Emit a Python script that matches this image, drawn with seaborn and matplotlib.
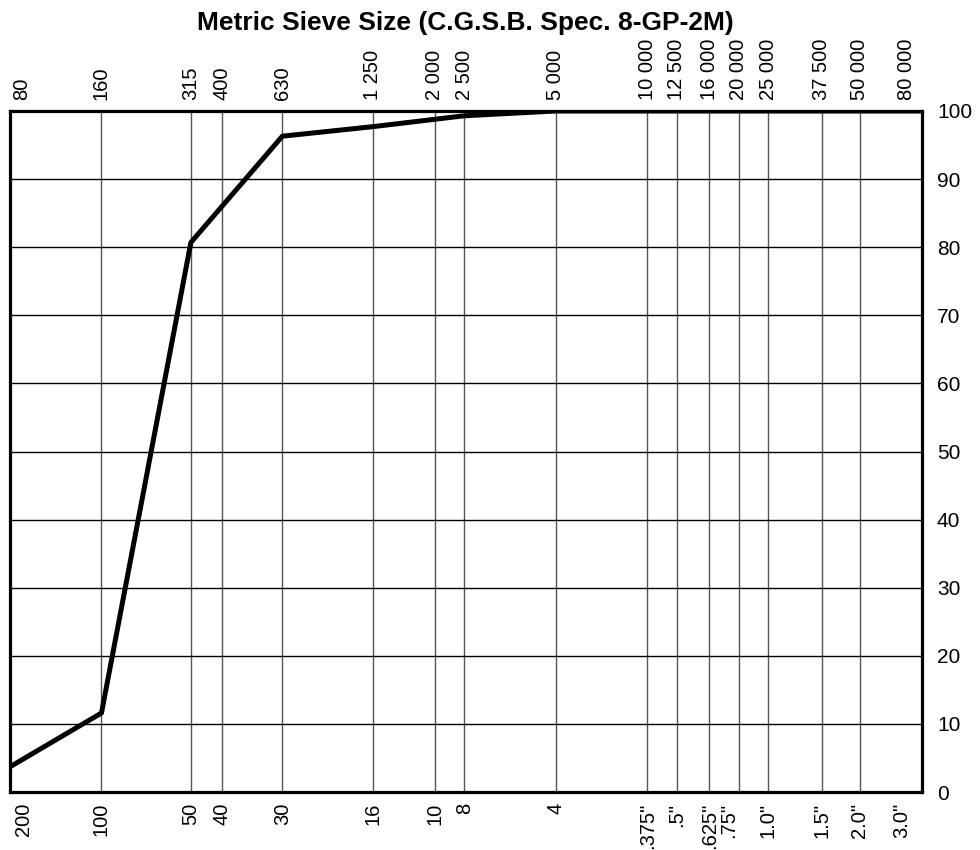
import seaborn as sns
import matplotlib.pyplot as plt
import matplotlib.transforms as mtransforms
from matplotlib.ticker import NullLocator

# sieve openings (micrometres) used for the grid / tick labels
sieve_um = [80, 160, 315, 400, 630, 1250, 2000, 2500, 5000, 10000,
            12500, 16000, 20000, 25000, 37500, 50000, 80000]
top_labels = ['80', '160', '315', '400', '630', '1 250', '2 000', '2 500', '5 000',
              '10 000', '12 500', '16 000', '20 000', '25 000', '37 500', '50 000', '80 000']
bottom_labels = ['200', '100', '50', '40', '30', '16', '10', '8', '4',
                 '.375"', '.5"', '.625"', '.75"', '1.0"', '1.5"', '2.0"', '3.0"']

# gradation curve (% passing)
size_um = [80, 160, 315, 630, 1250, 2500, 5000, 10000, 20000, 80000]
passing = [3.7, 11.6, 80.7, 96.3, 97.7, 99.3, 100, 100, 100, 100]

y_ticks = list(range(0, 101, 10))

sns.set_style('white')
plt.rcParams['font.family'] = ['Liberation Sans', 'DejaVu Sans']
plt.rcParams['text.color'] = 'black'
plt.rcParams['xtick.color'] = 'black'
plt.rcParams['ytick.color'] = 'black'

fig = plt.figure(figsize=(9.8, 8.5), dpi=100)
ax = fig.add_axes([10 / 980, 1 - 792 / 850, 911.7 / 980, 681 / 850])

sns.lineplot(x=size_um, y=passing, color='black', linewidth=3.6, ax=ax)

ax.set_xscale('log')
ax.set_xlim(80, 80000)
ax.set_ylim(0, 100)

ax.set_xticks(sieve_um, bottom_labels, rotation=90, fontsize=14.5)
ax.xaxis.set_minor_locator(NullLocator())
ax.set_yticks(y_ticks)
ax.yaxis.tick_right()
ax.tick_params(axis='y', length=0, pad=11, labelsize=15)
ax.tick_params(axis='x', length=0, pad=8)

ax.grid(axis='x', color='#555555', linewidth=1)
ax.grid(axis='y', color='black', linewidth=1)
ax.set_axisbelow(True)
for sp in ax.spines.values():
    sp.set_visible(True)
    sp.set_color('black')
    sp.set_linewidth(2.3)

sec = ax.secondary_xaxis('top')
sec.set_xticks(sieve_um, top_labels, rotation=90, fontsize=14.5)
sec.xaxis.set_minor_locator(NullLocator())
sec.tick_params(axis='x', length=0, pad=8)
sec.spines['top'].set_visible(False)

ax.set_xlabel('')
ax.set_ylabel('')

cx = (10 + 921.7) / 2 / 980
fig.text(cx, 1 - 30 / 850, 'Metric Sieve Size (C.G.S.B. Spec. 8-GP-2M)',
         ha='center', va='baseline', fontsize=19, fontweight='bold')

fig.canvas.draw()


def nudge(lbl, dx, dy=0):
    off = mtransforms.ScaledTranslation(dx / 100, dy / 100, fig.dpi_scale_trans)
    lbl.set_transform(lbl.get_transform() + off)


blabs = ax.get_xticklabels()
tlabs = sec.get_xticklabels()
nudge(blabs[0], 13)
nudge(blabs[-1], -20)
nudge(blabs[12], -10)
nudge(tlabs[0], 12)
nudge(tlabs[-1], -15)

fig.savefig('out.png', dpi=100)
